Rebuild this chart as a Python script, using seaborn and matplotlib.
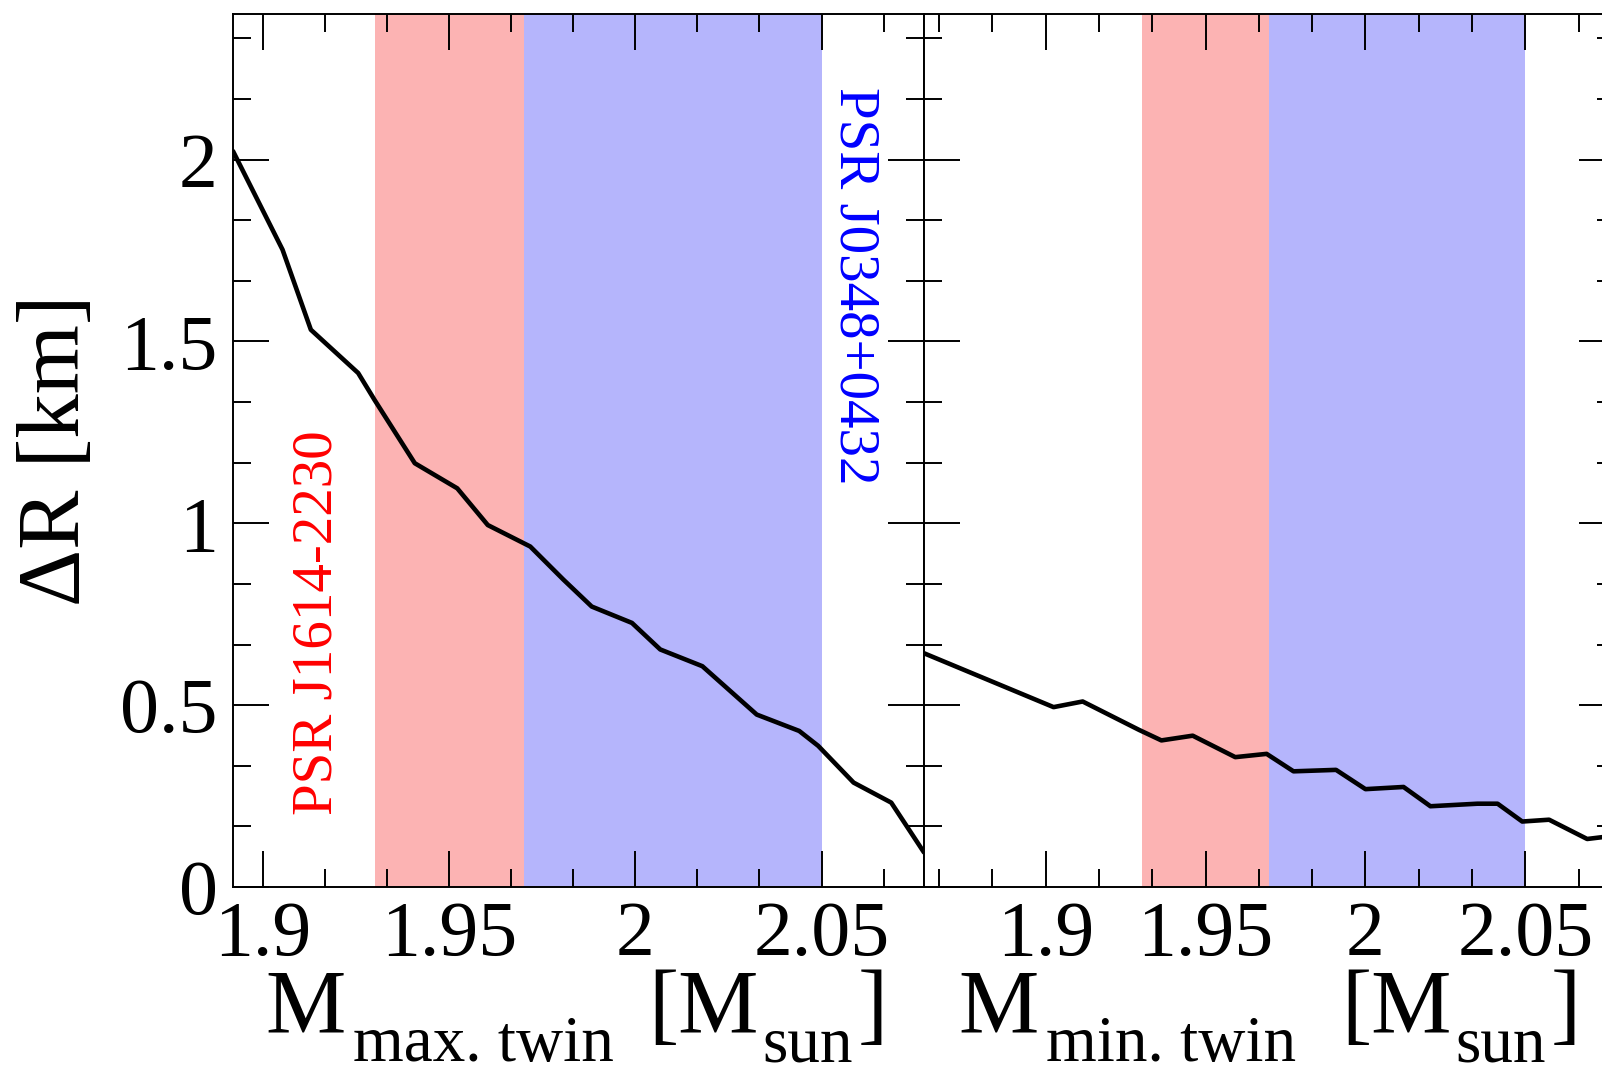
import matplotlib
matplotlib.use("Agg")
import matplotlib.pyplot as plt
from matplotlib.ticker import AutoMinorLocator, FixedLocator, FixedFormatter
import seaborn as sns
import pandas as pd

# Maximum-mass twin branch: mass [M_sun] vs radius difference [km]
m_max_twin = [1.892, 1.9053, 1.9129, 1.9256, 1.9300, 1.9408, 1.9522, 1.9604, 1.9718, 1.9807,
              1.9883, 1.9991, 2.0067, 2.0180, 2.0326, 2.0440, 2.0491, 2.0586, 2.0687, 2.0775]
dr_max_twin = [2.023, 1.752, 1.532, 1.413, 1.339, 1.165, 1.096, 0.995, 0.936, 0.845,
               0.771, 0.726, 0.653, 0.607, 0.474, 0.429, 0.388, 0.287, 0.232, 0.095]

# Minimum-mass twin branch
m_min_twin = [1.8619, 1.9025, 1.9116, 1.9292, 1.9362, 1.9460, 1.9593, 1.9691, 1.9775, 1.9908,
              2.0000, 2.0119, 2.0203, 2.0350, 2.0413, 2.0490, 2.0574, 2.0693, 2.0740]
dr_min_twin = [0.643, 0.4945, 0.510, 0.432, 0.403, 0.416, 0.357, 0.366, 0.318, 0.322,
               0.269, 0.275, 0.222, 0.229, 0.229, 0.180, 0.185, 0.132, 0.137]

# Pulsar mass constraints (M_sun)
psr_j1614 = (1.93, 2.01)
psr_j0348 = (1.97, 2.05)

y_ticks = [0, 0.5, 1, 1.5, 2]
y_tick_labels = ["0", "0.5", "1", "1.5", "2"]
x_ticks = [1.9, 1.95, 2.0, 2.05]
x_tick_labels = ["1.9", "1.95", "2", "2.05"]

sns.set_style("ticks")
plt.rcParams["font.family"] = ["Liberation Serif", "DejaVu Serif"]
plt.rcParams.update({
    "text.color": "black",
    "axes.labelcolor": "black",
    "axes.edgecolor": "black",
    "xtick.color": "black",
    "ytick.color": "black",
})

RED_BAND = "#fcb3b3"
BLUE_BAND = "#b5b5fc"

W, H = 1602, 1073
fig = plt.figure(figsize=(W / 100, H / 100), dpi=100)
bottom = (H - 887) / H
height = 873 / H
ax1 = fig.add_axes([233 / W, bottom, 691 / W, height])
ax2 = fig.add_axes([924 / W, bottom, 691 / W, height])

df_max = pd.DataFrame({"M": m_max_twin, "dR": dr_max_twin})
df_min = pd.DataFrame({"M": m_min_twin, "dR": dr_min_twin})

for ax, df, xlim in [(ax1, df_max, (1.892, 2.0775)), (ax2, df_min, (1.862, 2.078))]:
    ax.axvspan(*psr_j1614, color=RED_BAND, lw=0, zorder=0)
    ax.axvspan(*psr_j0348, color=BLUE_BAND, lw=0, zorder=0.5)
    sns.lineplot(data=df, x="M", y="dR", ax=ax, color="black", lw=3.3,
                 estimator=None, sort=False, zorder=3)
    ax.set_xlim(*xlim)
    ax.set_ylim(0, 2.4)
    ax.set_xlabel("")
    ax.set_ylabel("")
    ax.xaxis.set_major_locator(FixedLocator(x_ticks))
    ax.xaxis.set_major_formatter(FixedFormatter(x_tick_labels))
    ax.xaxis.set_minor_locator(AutoMinorLocator(3))
    ax.yaxis.set_major_locator(FixedLocator(y_ticks))
    ax.yaxis.set_minor_locator(AutoMinorLocator(3))
    ax.tick_params(which="both", direction="in", top=True, right=True,
                   width=1.4, color="black", labelcolor="black")
    ax.tick_params(which="major", length=26)
    ax.tick_params(which="minor", length=13)
    ax.tick_params(axis="x", which="major", labelsize=56, pad=10)
    ax.tick_params(axis="y", which="major", labelsize=56, pad=11)
    for sp in ax.spines.values():
        sp.set_linewidth(1.4)
        sp.set_color("black")
        sp.set_zorder(4)

ax1.yaxis.set_major_formatter(FixedFormatter(y_tick_labels))
ax2.tick_params(axis="y", labelleft=False)

ax1.set_ylabel("ΔR [km]", fontsize=64, color="black")
ax1.yaxis.set_label_coords(-0.195, 0.5)

# Pulsar labels
ax1.text(1.9146, 0.726, "PSR J1614-2230", color="red", fontsize=41, rotation=90,
         ha="center", va="center")
ax1.text(2.0588, 1.652, "PSR J0348+0432", color="blue", fontsize=41, rotation=-90,
         ha="center", va="center")


def mass_label(x0, sub):
    """Axis title M_sub [M_sun] assembled from main text and subscripts."""
    base_y = 1 - 1033 / H
    sub_y = 1 - 1061 / H
    fig.text(x0 / W, base_y, "M", fontsize=65, ha="left", va="baseline")
    fig.text((x0 + 88) / W, sub_y, sub, fontsize=47, ha="left", va="baseline")
    fig.text((x0 + 383) / W, base_y, "[M", fontsize=65, ha="left", va="baseline")
    fig.text((x0 + 497) / W, sub_y, "sun", fontsize=47, ha="left", va="baseline")
    fig.text((x0 + 593) / W, base_y, "]", fontsize=65, ha="left", va="baseline")


mass_label(265, "max. twin")
mass_label(958, "min. twin")

fig.savefig("out.png", dpi=100)
